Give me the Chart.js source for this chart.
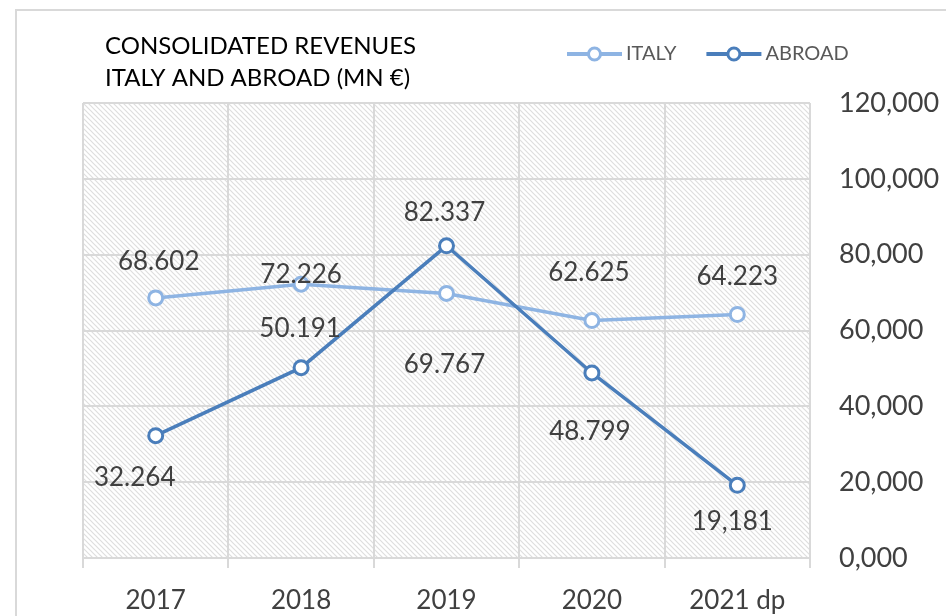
<!DOCTYPE html>
<html>
<head>
<meta charset="utf-8">
<script src="https://cdn.jsdelivr.net/npm/chart.js@4.4.1/dist/chart.umd.min.js"></script>
<style>
  body { margin: 0; background: #fff; }
</style>
</head>
<body>
<canvas id="myChart" width="946" height="616"></canvas>
<script>
const years = ['2017', '2018', '2019', '2020', '2021 dp'];
const italy = [68602, 72226, 69767, 62625, 64223];
const abroad = [32264, 50191, 82337, 48799, 19181];
const italyLabels = ['68.602', '72.226', '69.767', '62.625', '64.223'];
const abroadLabels = ['32.264', '50.191', '82.337', '48.799', '19,181'];
const yTicks = ['0,000', '20,000', '40,000', '60,000', '80,000', '100,000', '120,000'];
const titleLines = ['CONSOLIDATED REVENUES', 'ITALY AND ABROAD (MN €)'];

// where Excel put each data label, relative to its point (px)
const italyShift = [[3, -36], [0, -10], [-2, 71], [-3, -48], [0, -38]];
const abroadShift = [[-21, 42], [-1, -39], [-2, -33], [-2, 59], [-5, 36]];

const textColor = '#404040';
const font = 'Lato, "Open Sans", sans-serif';

function makeHatch(ctx) {
    const c = document.createElement('canvas');
    c.width = 5; c.height = 5;
    const g = c.getContext('2d');
    g.fillStyle = '#fff';
    g.fillRect(0, 0, 5, 5);
    g.strokeStyle = '#dedede';
    g.lineWidth = 1.2;
    g.beginPath();
    g.moveTo(-1, -1); g.lineTo(6, 6);
    g.moveTo(-1, 4); g.lineTo(1, 6);
    g.moveTo(4, -1); g.lineTo(6, 1);
    g.stroke();
    return ctx.createPattern(c, 'repeat');
}

const decor = {
    id: 'decor',
    beforeDraw(chart) {
        const { ctx, chartArea: a } = chart;
        ctx.save();
        ctx.fillStyle = '#fff';
        ctx.fillRect(0, 0, chart.width, chart.height);
        ctx.strokeStyle = '#d9d9d9';
        ctx.lineWidth = 2;
        ctx.strokeRect(16, 10, chart.width, chart.height);
        ctx.fillStyle = makeHatch(ctx);
        ctx.fillRect(a.left, a.top, a.right - a.left, a.bottom - a.top);
        ctx.fillStyle = '#000';
        ctx.font = '24px ' + font;
        ctx.textBaseline = 'middle';
        titleLines.forEach((t, i) => ctx.fillText(t, 105, 46 + i * 32));
        ctx.restore();
    },
    afterDatasetsDraw(chart) {
        const { ctx } = chart;
        const sets = [[italyLabels, italyShift], [abroadLabels, abroadShift]];
        ctx.save();
        ctx.fillStyle = textColor;
        ctx.font = '26px ' + font;
        ctx.textAlign = 'center';
        ctx.textBaseline = 'middle';
        sets.forEach(([labels, shift], d) => {
            chart.getDatasetMeta(d).data.forEach((pt, i) => {
                ctx.fillText(labels[i], pt.x + shift[i][0], pt.y + shift[i][1]);
            });
        });
        ctx.restore();
    },
    afterDraw(chart) {
        const { ctx } = chart;
        ctx.save();
        ctx.font = '20px ' + font;
        ctx.textBaseline = 'middle';
        let x = 567;
        const y = 54;
        chart.data.datasets.forEach(ds => {
            ctx.strokeStyle = ds.borderColor;
            ctx.lineWidth = 4;
            ctx.beginPath();
            ctx.moveTo(x, y);
            ctx.lineTo(x + 55, y);
            ctx.stroke();
            ctx.beginPath();
            ctx.arc(x + 27.5, y, 6, 0, Math.PI * 2);
            ctx.fillStyle = '#fff';
            ctx.fill();
            ctx.lineWidth = 3;
            ctx.stroke();
            ctx.fillStyle = '#595959';
            ctx.fillText(ds.label, x + 59, y);
            x += 59 + ctx.measureText(ds.label).width + 30;
        });
        ctx.restore();
    }
};

const ctx = document.getElementById('myChart').getContext('2d');
new Chart(ctx, {
    type: 'line',
    data: {
        labels: years,
        datasets: [
            {
                label: 'ITALY',
                data: italy,
                borderColor: '#8eb4e3',
                backgroundColor: '#fff',
                borderWidth: 3.5,
                pointRadius: 7,
                pointBorderWidth: 3,
                pointBackgroundColor: '#fff',
                order: 1
            },
            {
                label: 'ABROAD',
                data: abroad,
                borderColor: '#4a7ebb',
                backgroundColor: '#fff',
                borderWidth: 3.5,
                pointRadius: 7,
                pointBorderWidth: 3,
                pointBackgroundColor: '#fff',
                order: 0
            }
        ]
    },
    options: {
        responsive: false,
        animation: false,
        layout: { padding: { left: 83, top: 103, right: 0, bottom: 0 } },
        plugins: {
            legend: { display: false },
            tooltip: { enabled: false }
        },
        scales: {
            x: {
                offset: true,
                grid: { color: '#d9d9d9', lineWidth: 2, offset: true, tickLength: 10 },
                border: { display: false },
                ticks: { color: textColor, font: { family: font, size: 26 }, padding: 17 },
                afterFit(s) { s.height = 58; }
            },
            y: {
                position: 'right',
                min: 0,
                max: 120000,
                ticks: {
                    stepSize: 20000,
                    color: textColor,
                    font: { family: font, size: 27 },
                    padding: 29,
                    callback: (v, i) => yTicks[i]
                },
                grid: { color: '#d9d9d9', lineWidth: 2, drawTicks: false },
                border: { display: false },
                afterFit(s) { s.width = 136; }
            }
        }
    },
    plugins: [decor]
});
</script>
</body>
</html>
